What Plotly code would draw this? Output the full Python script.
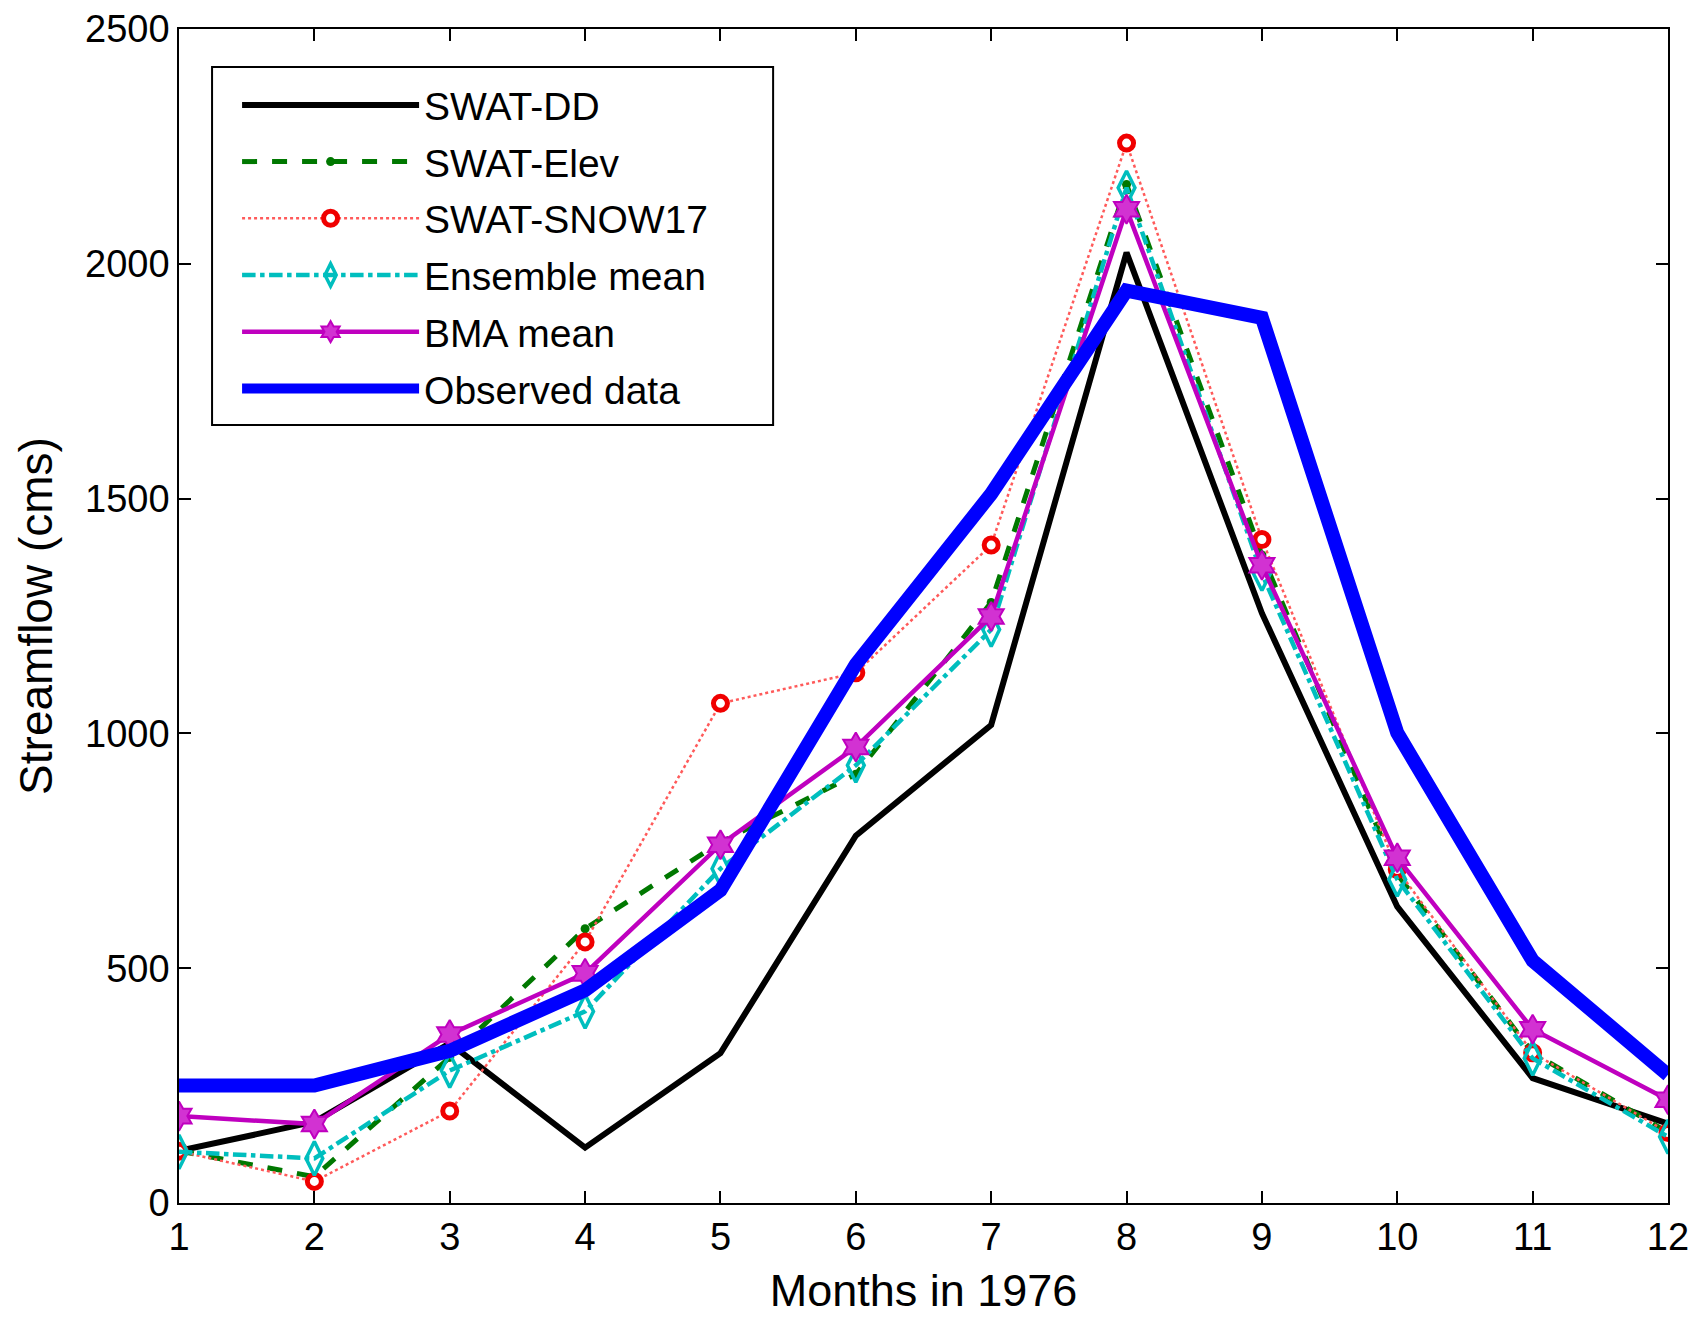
import plotly.graph_objects as go

months = list(range(1, 13))
swat_dd = [111, 173, 340, 118, 319, 782, 1018, 2024, 1256, 631, 266, 169]
swat_elev = [111, 56, 310, 584, 768, 913, 1279, 2169, 1380, 700, 320, 150]
swat_snow17 = [110, 46, 196, 556, 1064, 1129, 1401, 2257, 1413, 710, 320, 150]
ensemble_mean = [109, 95, 282, 408, 712, 932, 1221, 2162, 1340, 689, 308, 141]
bma_mean = [185, 168, 359, 489, 763, 971, 1249, 2116, 1358, 735, 370, 220]
observed = [250, 250, 324, 453, 666, 1147, 1510, 1943, 1885, 1001, 516, 273]
y_ticks = [0, 500, 1000, 1500, 2000, 2500]

FONT = "Arial, Liberation Sans, Helvetica, sans-serif"

fig = go.Figure()
fig.add_trace(go.Scatter(x=months, y=swat_dd, name="SWAT-DD", mode="lines",
                         line=dict(color="black", width=6), legendgroup="a"))
fig.add_trace(go.Scatter(x=months, y=swat_elev, name="SWAT-Elev", mode="lines+markers",
                         line=dict(color="rgb(0,120,0)", width=5, dash="dash"),
                         marker=dict(symbol="circle", size=9, color="rgb(0,120,0)"), legendgroup="b"))
fig.add_trace(go.Scatter(x=months, y=swat_snow17, name="SWAT-SNOW17", mode="lines+markers",
                         line=dict(color="rgb(255,90,90)", width=2.5, dash="dot"),
                         marker=dict(symbol="circle", size=14, color="white",
                                     line=dict(color="rgb(240,0,0)", width=5)), legendgroup="c"))
fig.add_trace(go.Scatter(x=months, y=ensemble_mean, name="Ensemble mean", mode="lines+markers",
                         line=dict(color="rgb(0,190,190)", width=4.5, dash="dashdot"),
                         marker=dict(symbol="diamond-tall-open", size=24, color="rgb(0,190,190)",
                                     line=dict(width=3.5)), legendgroup="d"))
fig.add_trace(go.Scatter(x=months, y=bma_mean, name="BMA mean", mode="lines+markers",
                         line=dict(color="rgb(191,0,191)", width=4.5),
                         marker=dict(symbol="hexagram", size=22, color="rgb(210,50,210)",
                                     line=dict(color="rgb(191,0,191)", width=2)), legendgroup="e"))
fig.add_trace(go.Scatter(x=months, y=observed, name="Observed data", mode="lines",
                         line=dict(color="rgb(0,0,255)", width=14), legendgroup="f"))

axis_common = dict(showline=True, linecolor="black", linewidth=1.5, mirror="allticks",
                   ticks="inside", ticklen=12, tickwidth=1.5, tickcolor="black",
                   showgrid=False, zeroline=False, automargin=False,
                   tickfont=dict(family=FONT, size=38, color="black"))

fig.update_layout(
    width=1702, height=1317,
    margin=dict(l=171, r=42, t=21, b=122),
    paper_bgcolor="white", plot_bgcolor="white",
    font=dict(family=FONT, color="black"),
    xaxis=dict(range=[1, 12], tickmode="array", tickvals=months,
               title=dict(text="Months in 1976", font=dict(family=FONT, size=45), standoff=17),
               **axis_common),
    yaxis=dict(range=[0, 2500], tickmode="array", tickvals=y_ticks,
               title=dict(text="Streamflow (cms)", font=dict(family=FONT, size=46), standoff=18),
               **axis_common),
    legend=dict(x=0.039, y=0.9625, xanchor="left", yanchor="top",
                borderwidth=0, bgcolor="rgba(0,0,0,0)",
                font=dict(family=FONT, size=39, color="black"),
                itemwidth=177, tracegroupgap=3, traceorder="grouped"),
    shapes=[dict(type="rect", xref="paper", yref="paper",
                 x0=0.0222, x1=0.399, y0=0.6627, y1=0.9676,
                 line=dict(color="black", width=2), fillcolor="white", layer="above")],
    showlegend=True,
)

fig.write_html("out.html")
